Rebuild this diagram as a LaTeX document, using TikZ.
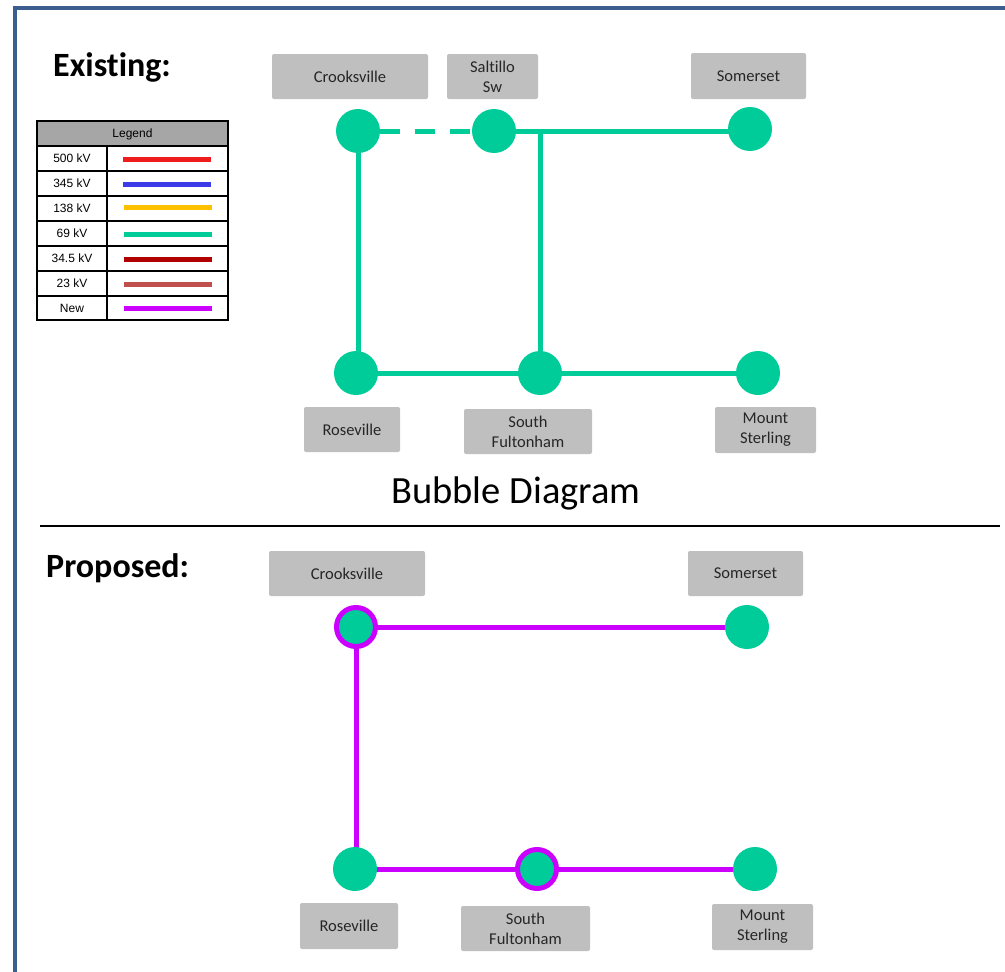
\documentclass[tikz,border=0pt]{standalone}
\usepackage{fontspec}
\setmainfont[Ligatures=NoCommon]{Carlito}
\newfontfamily\arialf{Liberation Sans}
\definecolor{teal69}{HTML}{00CC99}
\definecolor{newmag}{HTML}{CC00FF}
\definecolor{boxgray}{HTML}{BFBFBF}
\definecolor{framec}{HTML}{3B5E8E}
\definecolor{hdrgray}{HTML}{A6A6A6}
\definecolor{kv500}{HTML}{EE1C1C}
\definecolor{kv345}{HTML}{3B3BE8}
\definecolor{kv138}{HTML}{FFC000}
\definecolor{kv345b}{HTML}{B00000}
\definecolor{kv23}{HTML}{C0504D}
\begin{document}
\begin{tikzpicture}[x=1pt,y=-1pt,
  bus/.style={circle,fill=teal69,minimum size=44pt,inner sep=0pt,outer sep=0pt},
  ringbus/.style={circle,fill=teal69,draw=newmag,line width=5pt,minimum size=39pt,inner sep=0pt,outer sep=0pt},
  lbl/.style={fill=boxgray,rounded corners=2pt,inner sep=0pt,align=center,text=black!85,font=\fontsize{16.5}{20}\selectfont},
  oldline/.style={draw=teal69,line width=5pt},
  newline/.style={draw=newmag,line width=5pt},
  title/.style={font=\fontsize{34}{40}\selectfont\bfseries,anchor=west,inner sep=0pt},
  legtxt/.style={font=\arialf\fontsize{12}{13}\selectfont,inner sep=0pt},
  legline/.style={line width=5pt}
]
\useasboundingbox (0,0) rectangle (1005,972);
\clip (0,0) rectangle (1005,972);
\draw[framec,line width=4pt] (15,8) rectangle (1030,1000);

% titles
\node[title] (tex) at (53,67) {Existing:};
\node[title] (tpr) at (46,568) {Proposed:};
\node[inner sep=0pt,font=\fontsize{38.5}{44}\selectfont] (tbd) at (516,493) {Bubble Diagram};
\draw[black,line width=1.3pt] (40,526) -- (1000,526);

% legend
\fill[hdrgray] (37,121) rectangle (228,146);
\draw[black,line width=1.5pt] (37,121) rectangle (228,320);
\foreach \yy in {146,171,196,221,246,271,296} \draw[black,line width=1.5pt] (37,\yy) -- (228,\yy);
\draw[black,line width=1.5pt] (107,146) -- (107,320);
\node[legtxt] (lh) at (132.5,134) {Legend};
\node[legtxt] (l1) at (72,158.5) {500 kV};
\node[legtxt] (l2) at (72,183.5) {345 kV};
\node[legtxt] (l3) at (72,208.5) {138 kV};
\node[legtxt] (l4) at (72,233.5) {69 kV};
\node[legtxt] (l5) at (72,258.5) {34.5 kV};
\node[legtxt] (l6) at (72,283.5) {23 kV};
\node[legtxt] (l7) at (72,308) {New};
\draw[legline,kv500] (123,159) -- (211,159);
\draw[legline,kv345] (123,184) -- (211,184);
\draw[legline,kv138] (124,207) -- (212,207);
\draw[legline,teal69] (124,234) -- (212,234);
\draw[legline,kv345b] (124,259) -- (212,259);
\draw[legline,kv23] (124,284) -- (212,284);
\draw[legline,newmag] (124,308) -- (212,308);

% ---------- Existing ----------
\node[lbl,minimum width=156pt,minimum height=45pt] (eCroL) at (350,76.5) {Crooksville};
\node[lbl,minimum width=91pt,minimum height=45pt] (eSalL) at (492.5,76.5) {Saltillo\\Sw};
\node[lbl,minimum width=115pt,minimum height=46pt] (eSomL) at (748.5,76) {Somerset};
\node[lbl,minimum width=96pt,minimum height=45pt] (eRosL) at (352,429.5) {Roseville};
\node[lbl,minimum width=128pt,minimum height=45pt] (eSfuL) at (528,431.5) {South\\Fultonham};
\node[lbl,minimum width=101pt,minimum height=46pt] (eMstL) at (765.5,430) {Mount\\Sterling};

\coordinate (eCro) at (358,131);
\coordinate (eSal) at (494,131);
\coordinate (eSom) at (750,129);
\coordinate (eRos) at (356,373);
\coordinate (eSfu) at (540,373);
\coordinate (eMst) at (758,373);

\draw[oldline] (eSal) -- (eSom |- eSal);
\draw[oldline] (eSfu) -- (eSfu |- eSal);
\draw[oldline] (eCro) -- (eCro |- eRos);
\draw[oldline] (eRos) -- (eMst);
\draw[oldline,dash pattern=on 20pt off 15pt] ([xshift=22pt]eCro) -- ([xshift=-22pt]eSal);

\node[bus] (nCro) at (eCro) {};
\node[bus] (nSal) at (eSal) {};
\node[bus] (nSom) at (eSom) {};
\node[bus] (nRos) at (eRos) {};
\node[bus] (nSfu) at (eSfu) {};
\node[bus] (nMst) at (eMst) {};

% ---------- Proposed ----------
\node[lbl,minimum width=156pt,minimum height=45pt] (pCroL) at (347,573.5) {Crooksville};
\node[lbl,minimum width=115pt,minimum height=45pt] (pSomL) at (745.5,573.5) {Somerset};
\node[lbl,minimum width=98pt,minimum height=46pt] (pRosL) at (349,926) {Roseville};
\node[lbl,minimum width=129pt,minimum height=45pt] (pSfuL) at (525.5,928.5) {South\\Fultonham};
\node[lbl,minimum width=101pt,minimum height=46pt] (pMstL) at (762.5,927) {Mount\\Sterling};

\coordinate (pCro) at (356,627);
\coordinate (pSom) at (747,627);
\coordinate (pRos) at (355,869);
\coordinate (pSfu) at (537,869);
\coordinate (pMst) at (755,869);

\draw[newline] (pCro) -- (pSom);
\draw[newline] (pCro) -- (pCro |- pRos);
\draw[newline] (pRos) -- (pMst);

\node[ringbus] (qCro) at (pCro) {};
\node[bus] (qSom) at (pSom) {};
\node[bus] (qRos) at (pRos) {};
\node[ringbus] (qSfu) at (pSfu) {};
\node[bus] (qMst) at (pMst) {};
\end{tikzpicture}
\end{document}
